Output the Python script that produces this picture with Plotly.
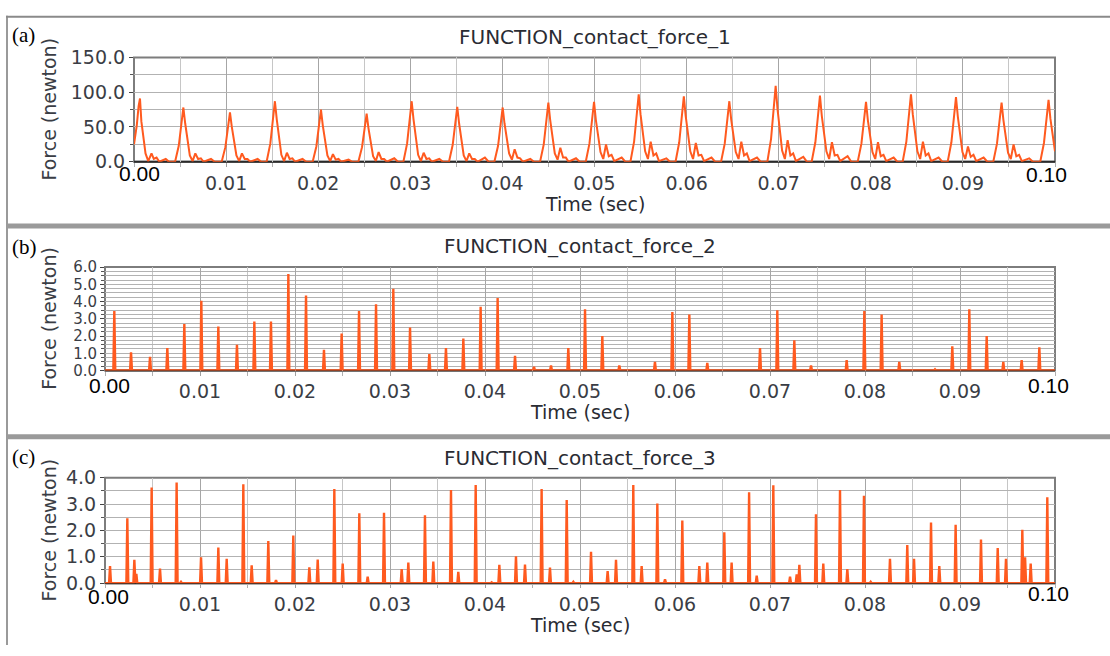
import plotly.graph_objects as go

# ---------------- data ----------------
# Panel (a): FUNCTION_contact_force_1 (newton) vs time (sec)
time_a = [
    0.0, 0.00030, 0.00050, 0.00065, 0.00080, 0.00100, 0.00125, 0.00155, 0.00190, 0.00215, 0.00245, 0.00275, 0.00345, 0.00380,
    0.00446, 0.00486, 0.00516, 0.00536, 0.00556, 0.00576, 0.00606, 0.00636, 0.00666, 0.00696, 0.00726, 0.00756, 0.00836, 0.00876,
    0.00952, 0.00992, 0.01022, 0.01042, 0.01062, 0.01082, 0.01112, 0.01142, 0.01172, 0.01202, 0.01232, 0.01262, 0.01342, 0.01382,
    0.0144, 0.0148, 0.0151, 0.0153, 0.0155, 0.0157, 0.0160, 0.0163, 0.0166, 0.0169, 0.0172, 0.0175, 0.0183, 0.0187,
    0.0194, 0.0198, 0.0201, 0.0203, 0.0205, 0.0207, 0.0210, 0.0213, 0.0216, 0.0219, 0.0222, 0.0225, 0.0233, 0.0237,
    0.02436, 0.02476, 0.02506, 0.02526, 0.02546, 0.02566, 0.02596, 0.02626, 0.02656, 0.02686, 0.02716, 0.02746, 0.02826, 0.02866,
    0.02925, 0.02965, 0.02995, 0.03015, 0.03035, 0.03055, 0.03085, 0.03115, 0.03145, 0.03175, 0.03205, 0.03235, 0.03315, 0.03355,
    0.0342, 0.0346, 0.0349, 0.0351, 0.0353, 0.0355, 0.0358, 0.0361, 0.0364, 0.0367, 0.0370, 0.0373, 0.0381, 0.0385,
    0.03913, 0.03953, 0.03983, 0.04003, 0.04023, 0.04043, 0.04073, 0.04103, 0.04133, 0.04163, 0.04193, 0.04223, 0.04303, 0.04343,
    0.04409, 0.04449, 0.04479, 0.04499, 0.04519, 0.04539, 0.04569, 0.04599, 0.04629, 0.04659, 0.04689, 0.04719, 0.04799, 0.04839,
    0.04905, 0.04945, 0.04975, 0.04995, 0.05015, 0.05035, 0.05065, 0.05095, 0.05125, 0.05155, 0.05185, 0.05215, 0.05295, 0.05335,
    0.0539, 0.0543, 0.0546, 0.0548, 0.0550, 0.0552, 0.0555, 0.0558, 0.0561, 0.0564, 0.0567, 0.0570, 0.0578, 0.0582,
    0.0588, 0.0592, 0.0595, 0.0597, 0.0599, 0.0601, 0.0604, 0.0607, 0.0610, 0.0613, 0.0616, 0.0619, 0.0627, 0.0631,
    0.06374, 0.06414, 0.06444, 0.06464, 0.06484, 0.06504, 0.06534, 0.06564, 0.06594, 0.06624, 0.06654, 0.06684, 0.06764, 0.06804,
    0.06877, 0.06917, 0.06947, 0.06967, 0.06987, 0.07007, 0.07037, 0.07067, 0.07097, 0.07127, 0.07157, 0.07187, 0.07267, 0.07307,
    0.07358, 0.07398, 0.07428, 0.07448, 0.07468, 0.07488, 0.07518, 0.07548, 0.07578, 0.07608, 0.07638, 0.07668, 0.07748, 0.07788,
    0.07858, 0.07898, 0.07928, 0.07948, 0.07968, 0.07988, 0.08018, 0.08048, 0.08078, 0.08108, 0.08138, 0.08168, 0.08248, 0.08288,
    0.08346, 0.08386, 0.08416, 0.08436, 0.08456, 0.08476, 0.08506, 0.08536, 0.08566, 0.08596, 0.08626, 0.08656, 0.08736, 0.08776,
    0.08835, 0.08875, 0.08905, 0.08925, 0.08945, 0.08965, 0.08995, 0.09025, 0.09055, 0.09085, 0.09115, 0.09145, 0.09225, 0.09265,
    0.0933, 0.0937, 0.0940, 0.0942, 0.0944, 0.0946, 0.0949, 0.0952, 0.0955, 0.0958, 0.0961, 0.0964, 0.0972, 0.0976,
    0.0984, 0.0988, 0.0991, 0.0993, 0.0995, 0.0997, 0.1000,
]
force_a = [
    25, 52, 80, 91, 58, 40, 12, 1, 12, 4, 6, 0, 4, 0,
    0, 23, 58, 78, 55, 35, 9, 1, 12, 4, 5, 0, 4, 0,
    0, 21, 53, 71, 50, 32, 9, 1, 12, 4, 4, 0, 4, 0,
    0, 26, 65, 87, 61, 39, 10, 1, 13, 4, 5, 0, 4, 0,
    0, 22, 56, 75, 52, 34, 9, 1, 11, 3, 4, 0, 3, 0,
    0, 21, 52, 69, 48, 31, 8, 1, 14, 4, 4, 0, 5, 0,
    0, 26, 65, 87, 61, 39, 10, 1, 13, 4, 5, 0, 4, 0,
    0, 24, 59, 79, 55, 36, 9, 1, 12, 4, 4, 0, 6, 0,
    0, 23, 58, 78, 55, 35, 12, 3, 18, 6, 5, 0, 4, 0,
    0, 25, 64, 85, 60, 38, 12, 3, 20, 6, 6, 0, 5, 0,
    0, 26, 64, 86, 60, 39, 14, 4, 25, 8, 10, 1, 6, 0,
    0, 29, 73, 97, 68, 44, 15, 4, 29, 9, 12, 1, 5, 0,
    0, 28, 70, 94, 66, 42, 15, 4, 27, 9, 10, 1, 6, 0,
    0, 26, 65, 87, 61, 39, 14, 4, 29, 9, 12, 1, 6, 0,
    0, 33, 82, 109, 76, 49, 16, 4, 31, 9, 12, 1, 7, 0,
    0, 28, 71, 95, 66, 43, 15, 4, 28, 9, 10, 1, 8, 0,
    0, 26, 64, 86, 60, 39, 14, 4, 28, 8, 10, 1, 6, 0,
    0, 29, 73, 97, 68, 44, 15, 4, 29, 9, 12, 1, 6, 0,
    0, 28, 70, 93, 65, 42, 14, 4, 22, 7, 10, 1, 6, 0,
    0, 26, 64, 85, 60, 38, 13, 4, 25, 8, 10, 1, 5, 0,
    0, 27, 67, 89, 62, 40, 15,
]

# Panel (b): FUNCTION_contact_force_2 impulse contacts (time, peak force)
contact_time_b = [
    0.00098, 0.00274, 0.00474, 0.00656, 0.00835, 0.01014, 0.01193, 0.01389, 0.01572, 0.01747,
    0.01930, 0.02116, 0.02305, 0.02491, 0.02674, 0.02853, 0.03035, 0.03211, 0.03414, 0.03589,
    0.03772, 0.03954, 0.04133, 0.04316, 0.04516, 0.04695, 0.04877, 0.05053, 0.05235, 0.05414,
    0.05789, 0.05972, 0.06151, 0.06340, 0.06895, 0.07077, 0.07256, 0.07432, 0.07807, 0.07993,
    0.08175, 0.08361, 0.08737, 0.08919, 0.09098, 0.09281, 0.09456, 0.09649, 0.09835,
]
peak_force_b = [
    3.45, 1.05, 0.80, 1.30, 2.70, 4.05, 2.55, 1.50, 2.85, 2.85,
    5.60, 4.35, 1.20, 2.15, 3.45, 3.85, 4.75, 2.50, 0.95, 1.30,
    1.85, 3.70, 4.20, 0.85, 0.22, 0.30, 1.30, 3.55, 2.00, 0.30,
    0.50, 3.40, 3.25, 0.45, 1.30, 3.50, 1.75, 0.30, 0.60, 3.45,
    3.25, 0.50, 0.07, 1.40, 3.55, 2.00, 0.50, 0.60, 1.35,
]

# Panel (c): FUNCTION_contact_force_3 impulse contacts (time, peak force)
contact_time_c = [
    0.00053, 0.00235, 0.00309, 0.00330, 0.00491, 0.00579, 0.00754, 0.00800, 0.01011, 0.01193,
    0.01281, 0.01456, 0.01544, 0.01719, 0.01800, 0.01982, 0.02151, 0.02239, 0.02414, 0.02502,
    0.02677, 0.02765, 0.02937, 0.03123, 0.03193, 0.03368, 0.03456, 0.03642, 0.03719, 0.03902,
    0.04070, 0.04151, 0.04326, 0.04421, 0.04596, 0.04684, 0.04860, 0.04930, 0.05116, 0.05291,
    0.05379, 0.05561, 0.05649, 0.05814, 0.05895, 0.06077, 0.06256, 0.06340, 0.06519, 0.06596,
    0.06780, 0.06860, 0.07035, 0.07211, 0.07281, 0.07309, 0.07484, 0.07561, 0.07737, 0.07814,
    0.07989, 0.08060, 0.08263, 0.08445, 0.08516, 0.08695, 0.08782, 0.08954, 0.09221, 0.09397,
    0.09484, 0.09656, 0.09685, 0.09744, 0.09919,
]
peak_force_c = [
    0.65, 2.46, 0.89, 0.35, 3.63, 0.55, 3.82, 0.05, 0.98, 1.35,
    0.92, 3.75, 0.68, 1.60, 0.12, 1.81, 0.60, 0.90, 3.57, 0.74,
    2.65, 0.25, 2.67, 0.53, 0.78, 2.58, 0.82, 3.54, 0.43, 3.73,
    0.03, 0.70, 1.02, 0.71, 3.57, 0.59, 3.16, 0.05, 1.19, 0.46,
    0.89, 3.73, 0.65, 3.02, 0.15, 2.38, 0.65, 0.78, 1.93, 0.78,
    3.45, 0.28, 3.72, 0.25, 0.33, 0.70, 2.62, 0.74, 3.54, 0.53,
    3.32, 0.05, 0.92, 1.45, 0.92, 2.30, 0.65, 2.22, 1.66, 1.33,
    0.92, 2.03, 0.98, 0.74, 3.26,
]

time_range = [0.0, 0.1]
x_tick_vals = [0.01, 0.02, 0.03, 0.04, 0.05, 0.06, 0.07, 0.08, 0.09]
x_tick_text = ["0.01", "0.02", "0.03", "0.04", "0.05", "0.06", "0.07", "0.08", "0.09"]
y_ticks_a = [0, 50, 100, 150]
y_ticks_b = [0, 1, 2, 3, 4, 5, 6]
y_ticks_c = [0, 1, 2, 3, 4]
titles = ["FUNCTION_contact_force_1", "FUNCTION_contact_force_2", "FUNCTION_contact_force_3"]
panel_tags = ["(a)", "(b)", "(c)"]

# ---------------- helpers ----------------
W, H = 1110, 656
SPIKE_HALF_WIDTH = 0.0001  # drawing width of an impulse


def px(x):
    return x / W


def py(y):
    return 1 - y / H


def impulses(times, peaks, t_end):
    xs, ys = [0.0], [0.0]
    for t, v in zip(times, peaks):
        xs += [t - SPIKE_HALF_WIDTH, t, t + SPIKE_HALF_WIDTH]
        ys += [0.0, v, 0.0]
    xs.append(t_end)
    ys.append(0.0)
    return xs, ys


xb, yb = impulses(contact_time_b, peak_force_b, time_range[1])
xc, yc = impulses(contact_time_c, peak_force_c, time_range[1])

LINE = "#ff5a1f"
TICKFONT = dict(family="DejaVu Sans", size=19, color="#3a3d45")

fig = go.Figure()
fig.add_trace(go.Scatter(x=time_a, y=force_a, mode="lines", line=dict(color=LINE, width=2),
                         xaxis="x", yaxis="y", showlegend=False))
fig.add_trace(go.Scatter(x=xb, y=yb, mode="lines", line=dict(color=LINE, width=2.4),
                         xaxis="x2", yaxis="y2", showlegend=False))
fig.add_trace(go.Scatter(x=xc, y=yc, mode="lines", line=dict(color=LINE, width=2.4),
                         xaxis="x3", yaxis="y3", showlegend=False))

# plot-area pixel boxes: (left, right, top, bottom)
boxes = [(134, 1055, 48, 156), (105, 1055, 265, 372), (105, 1055, 483, 592)]
y_specs = [
    (y_ticks_a, [f"{v:.1f}" for v in y_ticks_a], [0, 150], 25, 19),
    (y_ticks_b, [f"{v:.1f}" for v in y_ticks_b], [0, 6], 0.25, 15),
    (y_ticks_c, [f"{v:.1f}" for v in y_ticks_c], [0, 4], 0.5, 19),
]

layout = dict(
    width=W, height=H, margin=dict(l=0, r=0, t=0, b=0),
    paper_bgcolor="white", plot_bgcolor="white",
    showlegend=False, shapes=[], annotations=[],
)

for i, ((l, r, t, b), (yv, yt, yr, ydt, yfs)) in enumerate(zip(boxes, y_specs)):
    sx = "" if i == 0 else str(i + 1)
    layout["xaxis" + sx] = dict(
        domain=[px(l), px(r)], range=time_range, anchor="y" + sx,
        tickmode="array", tickvals=x_tick_vals, ticktext=x_tick_text,
        tickfont=TICKFONT, ticks="outside", ticklen=4, tickcolor="#a0a0a0",
        showgrid=True, gridcolor="#a6a6a6", gridwidth=1,
        minor=dict(dtick=0.005, tick0=0, showgrid=True, gridcolor="#c6c6c6",
                   ticks="outside", ticklen=4, tickcolor="#b0b0b0"),
        showline=False, zeroline=False, fixedrange=True,
    )
    layout["yaxis" + sx] = dict(
        domain=[py(b), py(t)], range=yr, anchor="x" + sx,
        tickmode="array", tickvals=yv, ticktext=yt,
        tickfont=dict(family="DejaVu Sans", size=yfs, color="#3a3d45"),
        ticks="outside", ticklen=4, tickcolor="#444",
        showgrid=True, gridcolor="#b2b2b2", gridwidth=1,
        minor=dict(dtick=ydt, tick0=0, showgrid=True, gridcolor="#b2b2b2",
                   ticks="outside", ticklen=3, tickcolor="#555"),
        showline=False, zeroline=False, fixedrange=True,
    )
    # plot frame and bottom axis line
    layout["shapes"].append(dict(type="rect", xref="paper", yref="paper",
                                 x0=px(l), x1=px(r), y0=py(b), y1=py(t),
                                 line=dict(color="#7d7d7d", width=2), layer="between"))
    layout["shapes"].append(dict(type="line", xref="paper", yref="paper",
                                 x0=px(l), x1=px(r), y0=py(b), y1=py(b),
                                 line=dict(color="#2a2a2a", width=2), layer="between"))
    cx = (l + r) / 2
    # titles
    title_y = [27, 243, 463][i]
    layout["annotations"].append(dict(text=titles[i], x=px(cx), y=py(title_y), xref="paper", yref="paper",
                                      showarrow=False, xanchor="center", yanchor="middle",
                                      font=dict(family="DejaVu Sans", size=20, color="#2a2c33")))
    xt_y = [200, 415, 635][i]
    layout["annotations"].append(dict(text="Time (sec)", x=px(cx), y=py(xt_y), xref="paper", yref="paper",
                                      showarrow=False, xanchor="center", yanchor="middle",
                                      font=dict(family="DejaVu Sans", size=19, color="#2a2c33")))
    layout["annotations"].append(dict(text="Force (newton)", x=px(49), y=py((t + b) / 2), xref="paper", yref="paper",
                                      showarrow=False, xanchor="center", yanchor="middle", textangle=-90,
                                      font=dict(family="DejaVu Sans", size=19, color="#3a3d45")))
    tag_y = [25, 244, 461][i]
    layout["annotations"].append(dict(text=panel_tags[i], x=px(10), y=py(tag_y), xref="paper", yref="paper",
                                      showarrow=False, xanchor="left", yanchor="middle",
                                      font=dict(family="Liberation Serif", size=21, color="black")))
    # black overlaid end labels 0.00 / 0.10
    z_pos = [(139, 168), (109, 387), (108, 606)][i]
    e_pos = [(1046, 169), (1048, 387), (1048, 603)][i]
    layout["annotations"].append(dict(text=f"{time_range[0]:.2f}", x=px(z_pos[0]), y=py(z_pos[1]),
                                      xref="paper", yref="paper", showarrow=False,
                                      xanchor="center", yanchor="middle",
                                      font=dict(family="Liberation Sans", size=21, color="black")))
    layout["annotations"].append(dict(text=f"{time_range[1]:.2f}", x=px(e_pos[0]), y=py(e_pos[1]),
                                      xref="paper", yref="paper", showarrow=False,
                                      xanchor="center", yanchor="middle",
                                      font=dict(family="Liberation Sans", size=21, color="black")))

# window frame lines
frame_col = "#9a9a9a"
layout["shapes"] += [
    dict(type="line", xref="paper", yref="paper", x0=px(7), x1=px(7), y0=py(5), y1=py(656),
         line=dict(color=frame_col, width=2)),
    dict(type="line", xref="paper", yref="paper", x0=px(6), x1=px(1110), y0=py(6), y1=py(6),
         line=dict(color="#8a8a8a", width=2)),
    dict(type="line", xref="paper", yref="paper", x0=px(6), x1=px(1110), y0=py(222.5), y1=py(222.5),
         line=dict(color=frame_col, width=5)),
    dict(type="line", xref="paper", yref="paper", x0=px(6), x1=px(1110), y0=py(440.5), y1=py(440.5),
         line=dict(color=frame_col, width=5)),
]

fig.update_layout(**layout)
fig.write_html("out.html")
